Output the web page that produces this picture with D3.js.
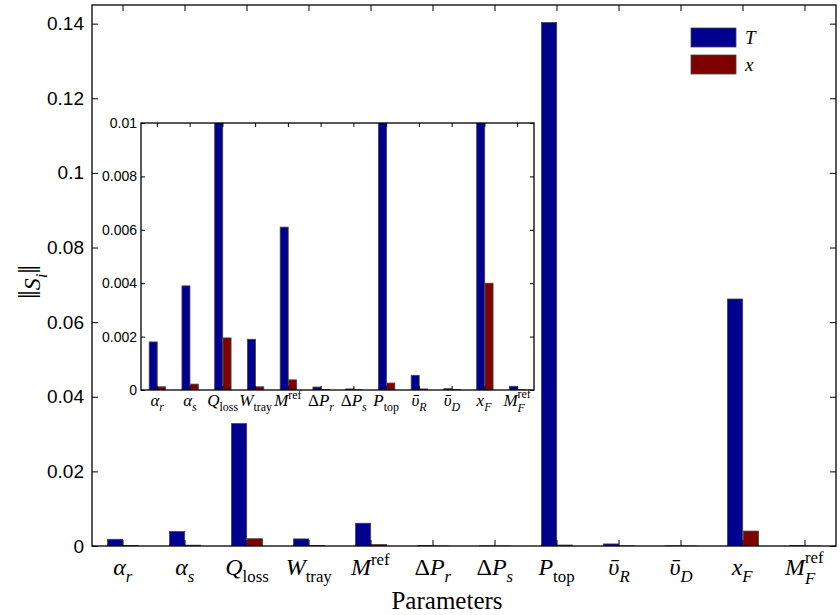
<!DOCTYPE html>
<html>
<head>
<meta charset="utf-8">
<script src="https://cdn.jsdelivr.net/npm/d3@7"></script>
<style>
  body { margin: 0; background: #fff; }
  svg { display: block; }
</style>
</head>
<body>
<svg id="chart" width="840" height="615"></svg>
<script>
// parameter labels (LaTeX-like pieces: it = italic, sub / sup = script, back = stacked on previous)
const paramLabels = [
    [{ t: "α", it: 1 }, { t: "r", it: 1, sub: 1 }],
    [{ t: "α", it: 1 }, { t: "s", it: 1, sub: 1 }],
    [{ t: "Q", it: 1 }, { t: "loss", sub: 1 }],
    [{ t: "W", it: 1 }, { t: "tray", sub: 1 }],
    [{ t: "M", it: 1 }, { t: "ref", sup: 1 }],
    [{ t: "Δ" }, { t: "P", it: 1 }, { t: "r", it: 1, sub: 1 }],
    [{ t: "Δ" }, { t: "P", it: 1 }, { t: "s", it: 1, sub: 1 }],
    [{ t: "P", it: 1 }, { t: "top", sub: 1 }],
    [{ t: "\u03C5\u0304", it: 1 }, { t: "R", it: 1, sub: 1 }],
    [{ t: "\u03C5\u0304", it: 1 }, { t: "D", it: 1, sub: 1 }],
    [{ t: "x", it: 1 }, { t: "F", it: 1, sub: 1 }],
    [{ t: "M", it: 1 }, { t: "F", it: 1, sub: 1, low: 1 }, { t: "ref", sup: 1, back: 1 }]
];

// ||S_i|| for temperature T and composition x
const sensT = [0.0018, 0.0039, 0.0328, 0.0019, 0.0061, 0.00011, 0.00004, 0.1403, 0.00055, 0.00005, 0.0662, 0.00014];
const sensX = [0.00012, 0.00022, 0.00195, 0.00012, 0.00038, 0.00002, 0.00001, 0.00026, 0.00004, 0.00002, 0.0040, 0.00001];

const seriesNames = ["T", "x"];
const mainYTicks = [0, 0.02, 0.04, 0.06, 0.08, 0.1, 0.12, 0.14];
const insetYTicks = [0, 0.002, 0.004, 0.006, 0.008, 0.01];

const seriesColors = ["#00008f", "#7f0000"];
const serif = "'Liberation Serif', 'DejaVu Serif', serif";
const sans = "'Liberation Sans', Arial, sans-serif";

const svg = d3.select("#chart");
const series = [sensT, sensX];

// writes a small LaTeX-like label built from pieces, centred on x
function richText(parent, x, y, parts, size) {
    const t = parent.append("text")
        .attr("x", x).attr("y", y)
        .attr("font-family", serif)
        .attr("font-size", size)
        .attr("fill", "#000");
    let shift = 0;
    let prev = null;
    parts.forEach(p => {
        const lvl = p.sub ? (p.low ? 0.36 : 0.28) : p.sup ? (p.back ? -0.5 : -0.42) : 0;
        const fs = (p.sub || p.sup) ? size * 0.7 : size * (p.scale || 1);
        const sp = t.append("tspan")
            .text(p.t)
            .attr("font-size", fs)
            .attr("font-style", p.it ? "italic" : "normal")
            .attr("dy", (lvl - shift) * size);
        if (p.back && prev) sp.attr("dx", -prev.node().getComputedTextLength());
        shift = lvl;
        prev = sp;
    });
    const w = t.node().getBBox().width;
    t.attr("x", x - w / 2);
    return t;
}

// one bar panel with a full box and inward ticks
function drawPanel(box, yMax, yTicks, fmt, opt) {
    const g = svg.append("g");

    const x = d3.scaleBand()
        .domain(d3.range(paramLabels.length))
        .range([box.left, box.right]);

    const xs = d3.scaleBand()
        .domain(d3.range(series.length))
        .range([x.step() * 0.25, x.step() * 0.75])
        .paddingInner(0.04);

    const y = d3.scaleLinear()
        .domain([0, yMax])
        .range([box.bottom, box.top]);

    g.append("rect")
        .attr("x", box.left).attr("y", box.top)
        .attr("width", box.right - box.left)
        .attr("height", box.bottom - box.top)
        .attr("fill", "#fff");

    const clipId = "clip" + opt.id;
    g.append("clipPath").attr("id", clipId)
        .append("rect")
        .attr("x", box.left).attr("y", box.top)
        .attr("width", box.right - box.left)
        .attr("height", box.bottom - box.top);

    const bars = g.append("g").attr("clip-path", `url(#${clipId})`);
    series.forEach((vals, s) => {
        bars.selectAll(null)
            .data(vals)
            .enter()
            .append("rect")
            .attr("x", (d, i) => x(i) + xs(s))
            .attr("width", xs.bandwidth())
            .attr("y", d => y(Math.min(d, yMax * 1.01)))
            .attr("height", d => y(0) - y(Math.min(d, yMax * 1.01)))
            .attr("fill", seriesColors[s])
            .attr("stroke", "#444")
            .attr("stroke-width", 0.8);
    });

    const tl = opt.tickLen;

    const left = g.append("g")
        .attr("transform", `translate(${box.left},0)`)
        .call(d3.axisLeft(y).tickValues(yTicks).tickFormat(fmt).tickSize(-tl).tickPadding(opt.pad));
    left.attr("font-family", sans).attr("font-size", opt.tickFont);

    const right = g.append("g")
        .attr("transform", `translate(${box.right},0)`)
        .call(d3.axisRight(y).tickValues(yTicks).tickFormat("").tickSize(-tl));

    const bottom = g.append("g")
        .attr("transform", `translate(0,${box.bottom})`)
        .call(d3.axisBottom(x).tickFormat("").tickSize(-tl));

    const top = g.append("g")
        .attr("transform", `translate(0,${box.top})`)
        .call(d3.axisTop(x).tickFormat("").tickSize(-tl));

    [left, right, bottom, top].forEach(a => {
        a.select(".domain").remove();
        a.selectAll(".tick line").attr("stroke", "#000").attr("stroke-width", 1);
    });

    g.append("rect")
        .attr("x", box.left).attr("y", box.top)
        .attr("width", box.right - box.left)
        .attr("height", box.bottom - box.top)
        .attr("fill", "none")
        .attr("stroke", "#000")
        .attr("stroke-width", 1.3);

    paramLabels.forEach((parts, i) => {
        richText(g, x(i) + x.bandwidth() / 2, opt.labelY, parts, opt.labelFont);
    });

    return { x, y, g };
}

const fmtMain = d => String(+d.toFixed(3));
const fmtInset = d => String(+d.toFixed(4));

// main axes
drawPanel({ left: 92, right: 836, top: 5, bottom: 546 }, 0.145, mainYTicks, fmtMain,
    { id: "main", tickLen: 6, pad: 8, tickFont: 19, labelFont: 24, labelY: 575 });

// legend
const legend = svg.append("g");
seriesNames.forEach((name, s) => {
    legend.append("rect")
        .attr("x", 691).attr("y", 28 + s * 27)
        .attr("width", 45).attr("height", 19)
        .attr("fill", seriesColors[s])
        .attr("stroke", "#444")
        .attr("stroke-width", 0.8);
    legend.append("text")
        .attr("x", 745).attr("y", 44 + s * 27)
        .attr("font-family", serif)
        .attr("font-style", "italic")
        .attr("font-size", 19)
        .text(name);
});

// inset zoom on the small values
drawPanel({ left: 141, right: 534, top: 123, bottom: 390 }, 0.01, insetYTicks, fmtInset,
    { id: "inset", tickLen: 4, pad: 4, tickFont: 14, labelFont: 17, labelY: 406 });

// axis titles
richText(svg, 447, 609, [{ t: "Parameters" }], 25);

const yl = svg.append("g").attr("transform", "translate(40,282) rotate(-90)");
richText(yl, 0, 0, [{ t: "‖", scale: 1.3 }, { t: "S", it: 1 }, { t: "i", it: 1, sub: 1 }, { t: "‖", scale: 1.3 }], 24);
</script>
</body>
</html>
